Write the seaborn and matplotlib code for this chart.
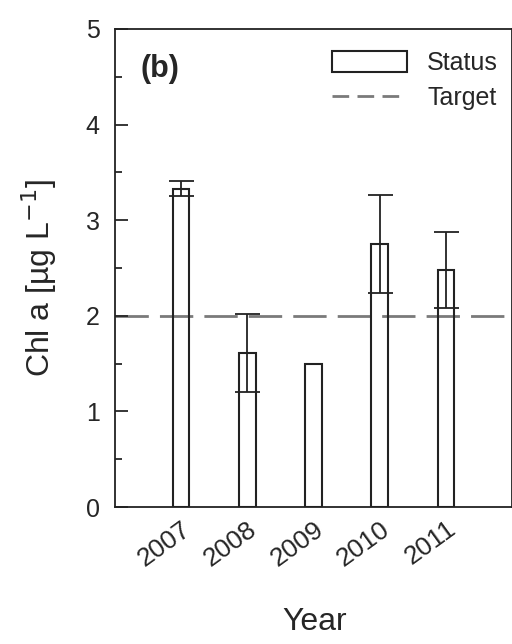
#This program recreates the Chl a status vs target bar chart
import numpy as np
import matplotlib
matplotlib.use("Agg")
import matplotlib.pyplot as plt
from matplotlib.patches import Patch
from matplotlib.lines import Line2D
import seaborn as sns

years = ["2007", "2008", "2009", "2010", "2011"]
chl_a = [3.33, 1.61, 1.50, 2.75, 2.48]
chl_err = [0.08, 0.41, 0.0, 0.51, 0.40]
target = 2.0

sns.set_style("ticks")
plt.rcParams["font.family"] = ["Liberation Sans", "DejaVu Sans"]

fig = plt.figure(figsize=(5.12, 6.44), dpi=100)
ax = fig.add_axes([0.2246, 0.2127, 0.7754, 0.7423])

sns.barplot(x=years, y=chl_a, fill=False, color="#222222", width=0.25,
            linewidth=1.5, errorbar=None, ax=ax)
# error bars only where there is a spread
pos = np.arange(len(years))
has_err = np.array(chl_err) > 0
ax.errorbar(pos[has_err], np.array(chl_a)[has_err], yerr=np.array(chl_err)[has_err],
            fmt="none", ecolor="#222222", elinewidth=1.3, capsize=9, capthick=1.3)

ax.axhline(target, color="#7a7a7a", linewidth=2, linestyle=(0, (12, 4)), zorder=0)

ax.set_xlim(-1, 5)
ax.set_ylim(0, 5)
ax.set_yticks([0, 1, 2, 3, 4, 5])
ax.set_yticks(np.arange(0.5, 5, 1), minor=True)
ax.tick_params(axis="y", which="major", direction="in", length=9, width=1.3,
               labelsize=18, pad=11)
ax.tick_params(axis="y", which="minor", direction="in", length=5, width=1.3)
ax.tick_params(axis="x", length=0, labelsize=19, pad=7)
for lab in ax.get_xticklabels():
    lab.set_rotation(36)
    lab.set_ha("right")
    lab.set_va("top")
    lab.set_rotation_mode("anchor")

for s in ax.spines.values():
    s.set_linewidth(1.3)
    s.set_color("#222222")

ax.set_xlabel("Year", fontsize=23, va="center")
ax.xaxis.set_label_coords(0.504, -0.24)
ax.set_ylabel(r"Chl a [µg L$^{-1}$]", fontsize=23, va="center")
ax.yaxis.set_label_coords(-0.19, 0.48)

ax.text(0.065, 0.9, "(b)", transform=ax.transAxes, fontsize=22, fontweight="bold")

handles = [Patch(facecolor="white", edgecolor="#222222", linewidth=1.5),
           Line2D([0], [0], color="#7a7a7a", linewidth=2, linestyle=(0, (6, 3)))]
ax.legend(handles, ["Status", "Target"], loc="upper right", frameon=False,
          fontsize=18, handlelength=3.0, handleheight=0.9, labelspacing=0.45,
          handletextpad=0.8, borderaxespad=0.0, bbox_to_anchor=(0.99, 0.975))

fig.savefig("out.png", dpi=100)
